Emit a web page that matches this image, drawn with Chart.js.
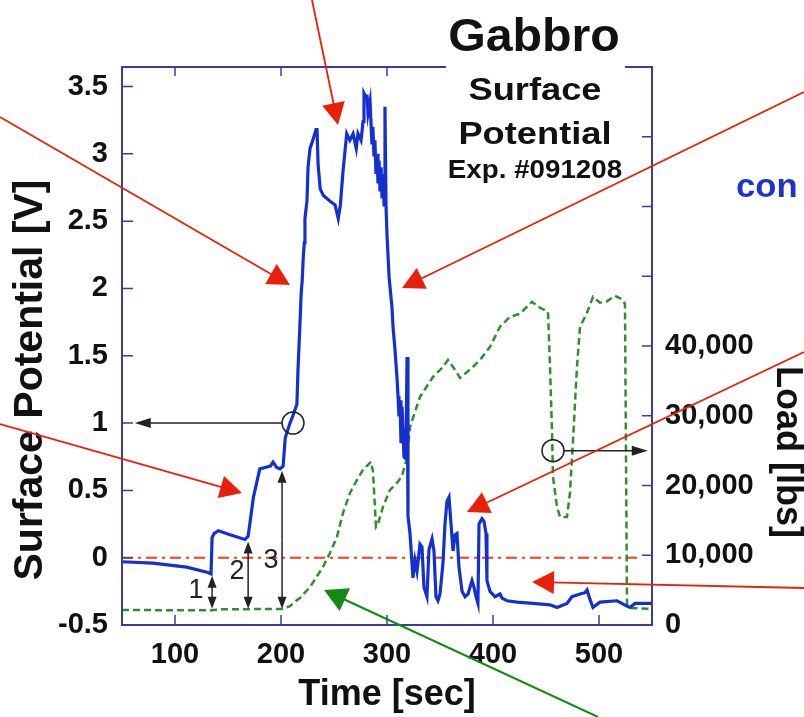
<!DOCTYPE html>
<html>
<head>
<meta charset="utf-8">
<script src="https://cdn.jsdelivr.net/npm/chart.js@4.4.1/dist/chart.umd.min.js"></script>
<style>
  html, body { margin: 0; padding: 0; background: #fff; }
  canvas { display: block; }
</style>
</head>
<body>
<canvas id="c" width="804" height="717"></canvas>
<script>
// time axis [sec]
const xTicks = [100, 200, 300, 400, 500];
const potTicks = [-0.5, 0, 0.5, 1, 1.5, 2, 2.5, 3, 3.5];
const loadTicks = [0, 10000, 20000, 30000, 40000, 50000, 60000, 70000];
const loadLabelMax = 40000;

// surface potential [V]
const potTime = [50, 79, 111, 131, 134, 135, 137, 141, 152, 166, 169, 174, 180, 185, 190, 192.5, 196, 199, 202, 204,
  208.5, 211, 215, 216, 218, 219, 220, 221, 222, 222.6, 224.5, 225.5, 227.4, 230, 233, 234, 235, 237, 240, 246,
  251, 254, 256, 258.5, 262, 265, 268, 271, 272.6, 275.5, 277.4, 278.3, 280.2, 281.1, 282.1, 284, 285.8, 286.7,
  287.7, 288.6, 289.6, 290.6, 291.5, 292.5, 293.4, 294.4, 295.3, 296.2, 297.2, 298.1, 299.1, 300, 302, 304.7, 305.7,
  307.5, 309.4, 310.4, 311.3, 312.3, 313.2, 314.2, 315.1, 316, 317, 317.9, 318.9, 319.8, 321.7, 324.5, 326.4, 328.3,
  331.1, 333, 334.9, 337.7, 339.6, 342.5, 344.3, 346.2, 348.1, 350, 352.8, 354.7, 356.6, 358.5, 360.4, 362.3, 364.2,
  366, 367.9, 370.8, 373.6, 376.4, 380.2, 382.1, 384, 385.8, 386.8, 389.6, 391.5, 393.4, 394.3, 397.2, 401.9, 406.6,
  408.5, 413.2, 422.6, 437.7, 453.8, 460.4, 469.8, 474.5, 482.1, 486.8, 488.7, 491.5, 494.3, 500.9, 517, 526.4,
  529.2, 534, 550];
const potential = [-0.03, -0.04, -0.07, -0.11, -0.12, 0.15, 0.18, 0.2, 0.17, 0.135, 0.16, 0.45, 0.66, 0.67, 0.68, 0.71, 0.67, 0.66, 0.68, 0.89,
  1.0, 1.05, 1.14, 1.39, 1.76, 1.96, 2.06, 2.23, 2.34, 2.52, 2.65, 2.9, 3.04, 3.1, 3.18, 3.18, 2.92, 2.74, 2.69, 2.65,
  2.62, 2.52, 2.62, 2.87, 3.15, 3.1, 3.15, 3.04, 3.15, 3.1, 3.24, 3.45, 3.42, 3.44, 3.3, 3.39, 3.07, 3.2,
  2.98, 3.1, 2.85, 3.0, 2.78, 2.95, 2.72, 2.9, 2.68, 2.85, 2.62, 3.35, 2.6, 2.4, 2.08, 1.86, 1.71,
  1.55, 1.34, 1.2, 1.05, 1.17, 0.85, 1.12, 0.94, 0.75, 0.74, 0.8, 1.49, 0.31, 0.18, -0.15, -0.02, -0.1,
  0.1, 0.08, -0.22, -0.29, 0.06, 0.14, 0.05, -0.29, -0.32, -0.27, -0.04, 0.25, 0.42, 0.45, 0.25, 0.05, 0.17,
  0.18, -0.07, -0.25, -0.29, -0.27, -0.17, -0.22, -0.29, -0.34, 0.25, 0.29, 0.27, 0.18, -0.17, -0.25, -0.29, -0.27,
  -0.3, -0.32, -0.33, -0.34, -0.35, -0.37, -0.34, -0.29, -0.27, -0.26, -0.24, -0.31, -0.37, -0.33, -0.32, -0.36,
  -0.37, -0.34, -0.34];

// load [lbs]
const loadTime = [50, 134, 142.5, 201, 208.5, 215.1, 217.9, 227.4, 239.6, 246.2, 252.8, 258.5, 265.1, 271.7, 277.4,
  285, 286.8, 289.6, 291.5, 296.2, 302.8, 309.4, 314.2, 318.9, 321.7, 331.1, 343.4, 352.8, 357.5, 362.3, 368.9,
  380.2, 387.7, 397.2, 406.6, 416, 425.5, 436.8, 444.3, 451.9, 453.8, 455.7, 456.6, 460.4, 463.2, 469.8, 472.6,
  475.5, 479.2, 482.1, 488.7, 494.3, 500.9, 507.5, 515.1, 522.6, 524.5, 526.4, 529.2, 550];
const load = [2150, 2100, 2250, 2300, 2700, 3590, 3870, 5450, 8320, 10330, 12630, 16070, 18940, 20800, 22240,
  23390, 22000, 14060, 14500, 16930, 19370, 20370, 21370, 24000, 28400, 32700, 35580, 37000, 38000, 37000, 35440,
  36880, 38000, 39880, 42760, 44190, 44620, 46340, 45480, 44900, 37020, 27550, 21230, 16930, 15500, 15500, 18940,
  26540, 37020, 42760, 44760, 47060, 46200, 46400, 47200, 46630, 46000, 3000, 2440, 2300];

// zero reference line
const zeroTime = [50, 540.6];
const zeroLevel = [0, 0];

const FONT = '"Liberation Sans", Arial, Helvetica, sans-serif';
const FRAME = '#3b3ba0';

// annotation arrows (pixel space) : [x1, y1, tipX, tipY]
const redArrows = [
  [312, 0, 338, 125],
  [0, 117, 290, 285],
  [804, 92, 402, 288],
  [0, 424, 242, 493],
  [804, 352, 467, 512],
  [804, 588, 532, 582]
];
const greenArrow = [598, 717, 324, 590];

function pts(xs, ys) { return xs.map((v, i) => ({ x: v, y: ys[i] })); }

function arrowHead(ctx, x1, y1, x2, y2, len, w) {
    const ang = Math.atan2(y2 - y1, x2 - x1);
    ctx.beginPath();
    ctx.moveTo(x2, y2);
    ctx.lineTo(x2 - len * Math.cos(ang) + w / 2 * Math.sin(ang), y2 - len * Math.sin(ang) - w / 2 * Math.cos(ang));
    ctx.lineTo(x2 - len * Math.cos(ang) - w / 2 * Math.sin(ang), y2 - len * Math.sin(ang) + w / 2 * Math.cos(ang));
    ctx.closePath();
    ctx.fill();
}

function arrow(ctx, x1, y1, x2, y2, color, lw, len, w) {
    ctx.strokeStyle = color; ctx.fillStyle = color; ctx.lineWidth = lw;
    const ang = Math.atan2(y2 - y1, x2 - x1);
    ctx.beginPath();
    ctx.moveTo(x1, y1);
    ctx.lineTo(x2 - len * 0.8 * Math.cos(ang), y2 - len * 0.8 * Math.sin(ang));
    ctx.stroke();
    arrowHead(ctx, x1, y1, x2, y2, len, w);
}

// text squeezed/stretched horizontally like the original slide
function wideText(ctx, txt, x, y, size, sx) {
    ctx.save();
    ctx.translate(x, y);
    ctx.scale(sx, 1);
    ctx.font = 'bold ' + size + 'px ' + FONT;
    ctx.fillText(txt, 0, 0);
    ctx.restore();
}

function rotText(ctx, txt, x, y, size, ang) {
    ctx.save();
    ctx.translate(x, y);
    ctx.rotate(ang);
    ctx.font = 'bold ' + size + 'px ' + FONT;
    ctx.textAlign = 'center'; ctx.textBaseline = 'middle';
    ctx.fillText(txt, 0, 0);
    ctx.restore();
}

const overlay = {
    id: 'overlay',
    afterDraw(chart) {
        const ctx = chart.ctx, a = chart.chartArea;
        const sx = chart.scales.x, sy = chart.scales.y, sy2 = chart.scales.y2;
        ctx.save();

        // frame and inward ticks
        ctx.strokeStyle = FRAME; ctx.lineWidth = 2;
        ctx.strokeRect(a.left, a.top, a.right - a.left, a.bottom - a.top);
        ctx.lineWidth = 1.5;
        ctx.beginPath();
        sx.ticks.forEach(t => {
            const px = sx.getPixelForValue(t.value);
            ctx.moveTo(px, a.bottom); ctx.lineTo(px, a.bottom - 10);
            ctx.moveTo(px, a.top); ctx.lineTo(px, a.top + 9);
        });
        sy.ticks.forEach(t => {
            const py = sy.getPixelForValue(t.value);
            ctx.moveTo(a.left, py); ctx.lineTo(a.left + 11, py);
        });
        sy2.ticks.forEach(t => {
            if (t.value === 0) return;
            const py = sy2.getPixelForValue(t.value);
            ctx.moveTo(a.right, py); ctx.lineTo(a.right - 10, py);
        });
        ctx.stroke();

        // gap in top frame behind the title
        ctx.fillStyle = '#fff';
        ctx.fillRect(446, a.top - 4, 625 - 446, 16);

        // axis titles on the sides
        ctx.fillStyle = '#111';
        rotText(ctx, 'Surface Potential [V]', 31, 380, 41, -Math.PI / 2);
        rotText(ctx, 'Load [lbs]', 787, 452, 36, Math.PI / 2);

        // titles
        ctx.textAlign = 'center'; ctx.textBaseline = 'alphabetic';
        wideText(ctx, 'Gabbro', 534, 51, 46, 1.05);
        wideText(ctx, 'Surface', 535, 100, 31, 1.17);
        wideText(ctx, 'Potential', 535, 144, 31, 1.17);
        wideText(ctx, 'Exp. #091208', 535, 178, 25, 1.11);

        ctx.fillStyle = '#1f35c8';
        ctx.textAlign = 'left';
        wideText(ctx, 'con', 736, 197, 33, 1.05);

        // circles with read-off arrows
        ctx.strokeStyle = '#222'; ctx.fillStyle = '#222'; ctx.lineWidth = 1.5;
        const c1x = sx.getPixelForValue(211.3), c1y = sy.getPixelForValue(1.0);
        ctx.beginPath(); ctx.arc(c1x, c1y, 11, 0, Math.PI * 2); ctx.stroke();
        arrow(ctx, c1x - 11, c1y, sx.getPixelForValue(62), c1y, '#222', 1.5, 16, 10);
        const c2x = sx.getPixelForValue(456.6), c2y = sy2.getPixelForValue(25000);
        ctx.beginPath(); ctx.arc(c2x, c2y, 11, 0, Math.PI * 2); ctx.stroke();
        arrow(ctx, c2x + 11, c2y, sx.getPixelForValue(546), c2y, '#222', 1.5, 16, 10);

        // stage arrows 1, 2, 3 (potential level down to load baseline)
        const stages = [[135, -0.12, '1', 196, 591], [169, 0.135, '2', 237, 572], [201, 0.66, '3', 271, 561]];
        ctx.textBaseline = 'middle';
        stages.forEach(s => {
            const px = sx.getPixelForValue(s[0]);
            const top = sy.getPixelForValue(s[1]) + 2;
            const bot = sy2.getPixelForValue(2200) - 1;
            const mid = (top + bot) / 2;
            arrow(ctx, px, mid, px, top, '#222', 1.5, 12, 9);
            arrow(ctx, px, mid, px, bot, '#222', 1.5, 12, 9);
            ctx.font = '27px ' + FONT; ctx.textAlign = 'center';
            ctx.fillText(s[2], s[3], s[4]);
        });

        // red and green call-out arrows
        redArrows.forEach(r => arrow(ctx, r[0], r[1], r[2], r[3], '#e8200a', 1.8, 22, 23));
        arrow(ctx, greenArrow[0], greenArrow[1], greenArrow[2], greenArrow[3], '#138a13', 2, 23, 25);

        ctx.restore();
    }
};

const tickFont = { family: FONT, size: 29, weight: 'bold' };

new Chart(document.getElementById('c'), {
    type: 'line',
    data: {
        datasets: [
            { label: 'Surface Potential', data: pts(potTime, potential), yAxisID: 'y',
              borderColor: '#1430d0', borderWidth: 3.2, pointRadius: 0, tension: 0, order: 1 },
            { label: 'Load', data: pts(loadTime, load), yAxisID: 'y2',
              borderColor: '#2e8f2e', borderWidth: 2.5, borderDash: [7, 4], pointRadius: 0, tension: 0, order: 2 },
            { label: 'zero', data: pts(zeroTime, zeroLevel), yAxisID: 'y',
              borderColor: '#ff3a10', borderWidth: 2, borderDash: [11, 5, 3, 5], pointRadius: 0, order: 3 }
        ]
    },
    options: {
        responsive: false,
        animation: false,
        devicePixelRatio: 1,
        layout: { padding: { top: 67, left: 0, right: 0, bottom: 0 } },
        plugins: { legend: { display: false }, tooltip: { enabled: false } },
        scales: {
            x: {
                type: 'linear', min: 50, max: 550,
                afterBuildTicks: s => { s.ticks = xTicks.map(v => ({ value: v })); },
                afterFit: s => { s.height = 92; },
                grid: { display: false }, border: { display: false },
                ticks: { color: '#111', padding: 5, maxRotation: 0, font: tickFont },
                title: { display: true, text: 'Time [sec]', color: '#111', padding: { top: 0, bottom: 4 },
                         font: { family: FONT, size: 36, weight: 'bold', lineHeight: 1 } }
            },
            y: {
                type: 'linear', position: 'left', min: -0.5, max: 3.645,
                afterBuildTicks: s => { s.ticks = potTicks.map(v => ({ value: v })); },
                afterFit: s => { s.width = 122; },
                grid: { display: false }, border: { display: false },
                ticks: { color: '#111', padding: 6, callback: v => String(v), font: tickFont }
            },
            y2: {
                type: 'linear', position: 'right', min: 0, max: 80000,
                afterBuildTicks: s => { s.ticks = loadTicks.map(v => ({ value: v })); },
                afterFit: s => { s.width = 152; },
                grid: { display: false }, border: { display: false },
                ticks: { color: '#111', padding: 5,
                         callback: v => v <= loadLabelMax ? v.toLocaleString('en-US') : '',
                         font: tickFont }
            }
        }
    },
    plugins: [overlay]
});
</script>
</body>
</html>
